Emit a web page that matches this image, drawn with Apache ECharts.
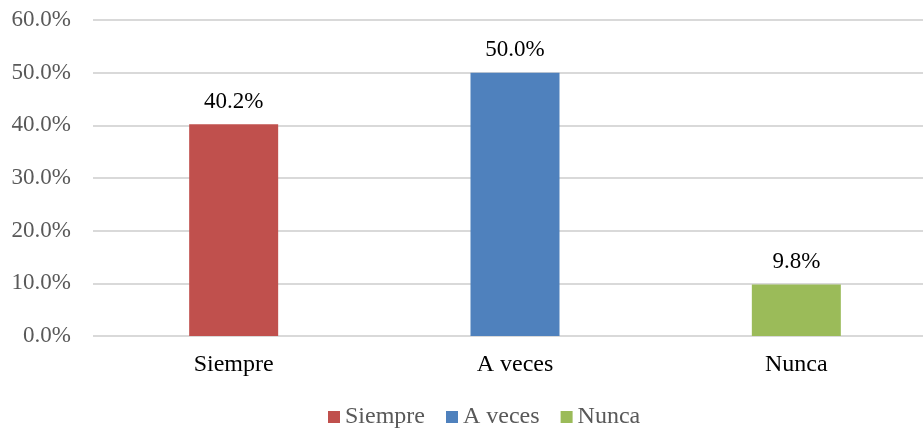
<!DOCTYPE html>
<html><head><meta charset="utf-8">
<script src="https://cdn.jsdelivr.net/npm/echarts@6/dist/echarts.min.js"></script>
<style>html,body{margin:0;padding:0;background:#fff}#c{width:923px;height:428px}</style>
</head><body><div id="c"></div>
<script>
var categories = ['Siempre', 'A veces', 'Nunca'];
var values = [40.2, 50.0, 9.8];
var colors = ['#C0504D', '#4F81BD', '#9BBB59'];
var yTicks = [0, 10, 20, 30, 40, 50, 60];

var FONT = '"Liberation Serif","Times New Roman",serif';
var series = categories.map(function (name, i) {
  var d = categories.map(function (_, j) { return j === i ? values[i] : '-'; });
  return {
    name: name, type: 'bar', data: d, barWidth: 89, barGap: '-100%',
    itemStyle: { color: colors[i] },
    label: { show: true, position: 'top', distance: 11, color: '#000', fontFamily: FONT, fontSize: 23,
      formatter: function (p) { return p.value.toFixed(1) + '%'; } }
  };
});
var chart = echarts.init(document.getElementById('c'), null, { renderer: 'canvas' });
chart.setOption({
  animation: false,
  textStyle: { fontFamily: FONT },
  grid: { left: 93, top: 20, height: 316, width: 844, containLabel: false, outerBoundsMode: 'none' },
  legend: {
    data: categories, bottom: -6, left: 323, itemWidth: 12, itemHeight: 12, itemGap: 21,
    icon: 'rect', textStyle: { color: '#595959', fontFamily: FONT, fontSize: 24 }
  },
  xAxis: {
    type: 'category', data: categories,
    axisLine: { show: false }, axisTick: { show: false },
    axisLabel: { color: '#000', fontFamily: FONT, fontSize: 24, margin: 17 }
  },
  yAxis: {
    type: 'value', min: yTicks[0], max: yTicks[yTicks.length - 1], interval: 10,
    axisLine: { show: false }, axisTick: { show: false },
    splitLine: { lineStyle: { color: '#D9D9D9', width: 2 } },
    axisLabel: { color: '#595959', fontFamily: FONT, fontSize: 23, margin: 22,
      formatter: function (v) { return v.toFixed(1) + '%'; } }
  },
  series: series
});
</script></body></html>
